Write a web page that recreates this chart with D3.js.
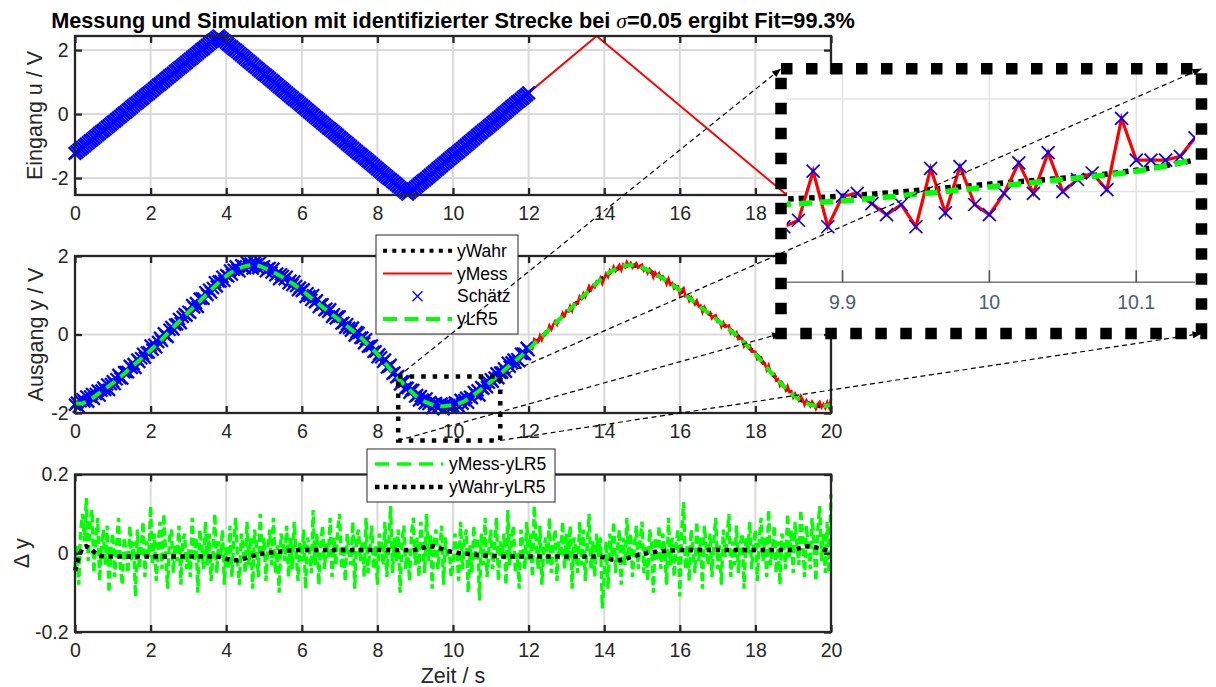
<!DOCTYPE html>
<html lang="de">
<head>
<meta charset="UTF-8" />
<title>Messung und Simulation mit identifizierter Strecke</title>
<script src="https://d3js.org/d3.v7.min.js"></script>
<style>
  body { margin: 0; background: #fff; }
  svg { display: block; font-family: 'Liberation Sans', Arial, sans-serif; }
  .label { font-size: 21.5px; fill: #262626; }
  .legend text { font-size: 17.5px; fill: #000; }
</style>
</head>
<body>
<svg id="chart" width="1216" height="687"></svg>
<script>
// ---------- data ----------
const xTicks = [0, 2, 4, 6, 8, 10, 12, 14, 16, 18, 20];

// input u: corners of the measured triangle (red line)
const uTime = [0, 3.8, 8.8, 13.8, 18.8, 20];
const uMess = [-1.23, 2.44, -2.5, 2.44, -2.5, -1.31];

// sample step of the estimation / output series
const dt = 0.05;

// input samples used for the estimation, t = 0 .. 12 s
const uSchaetz = [
  -1.23, -1.18, -1.13, -1.09, -1.04, -0.99, -0.94, -0.89, -0.84, -0.80,
  -0.75, -0.70, -0.65, -0.60, -0.55, -0.51, -0.46, -0.41, -0.36, -0.31,
  -0.26, -0.22, -0.17, -0.12, -0.07, -0.02, 0.03, 0.07, 0.12, 0.17,
  0.22, 0.27, 0.32, 0.36, 0.41, 0.46, 0.51, 0.56, 0.61, 0.65,
  0.70, 0.75, 0.80, 0.85, 0.90, 0.94, 0.99, 1.04, 1.09, 1.14,
  1.19, 1.23, 1.28, 1.33, 1.38, 1.43, 1.47, 1.52, 1.57, 1.62,
  1.67, 1.72, 1.76, 1.81, 1.86, 1.91, 1.96, 2.01, 2.05, 2.10,
  2.15, 2.20, 2.25, 2.30, 2.34, 2.39, 2.44, 2.39, 2.34, 2.29,
  2.24, 2.19, 2.14, 2.09, 2.04, 2.00, 1.95, 1.90, 1.85, 1.80,
  1.75, 1.70, 1.65, 1.60, 1.55, 1.50, 1.45, 1.40, 1.35, 1.30,
  1.25, 1.21, 1.16, 1.11, 1.06, 1.01, 0.96, 0.91, 0.86, 0.81,
  0.76, 0.71, 0.66, 0.61, 0.56, 0.51, 0.46, 0.42, 0.37, 0.32,
  0.27, 0.22, 0.17, 0.12, 0.07, 0.02, -0.03, -0.08, -0.13, -0.18,
  -0.23, -0.28, -0.33, -0.38, -0.43, -0.47, -0.52, -0.57, -0.62, -0.67,
  -0.72, -0.77, -0.82, -0.87, -0.92, -0.97, -1.02, -1.07, -1.12, -1.17,
  -1.22, -1.26, -1.31, -1.36, -1.41, -1.46, -1.51, -1.56, -1.61, -1.66,
  -1.71, -1.76, -1.81, -1.86, -1.91, -1.96, -2.01, -2.05, -2.10, -2.15,
  -2.20, -2.25, -2.30, -2.35, -2.40, -2.45, -2.50, -2.45, -2.40, -2.35,
  -2.30, -2.25, -2.20, -2.15, -2.10, -2.06, -2.01, -1.96, -1.91, -1.86,
  -1.81, -1.76, -1.71, -1.66, -1.61, -1.56, -1.51, -1.46, -1.41, -1.36,
  -1.31, -1.26, -1.22, -1.17, -1.12, -1.07, -1.02, -0.97, -0.92, -0.87,
  -0.82, -0.77, -0.72, -0.67, -0.62, -0.57, -0.52, -0.48, -0.43, -0.38,
  -0.33, -0.28, -0.23, -0.18, -0.13, -0.08, -0.03, 0.02, 0.07, 0.12,
  0.17, 0.22, 0.27, 0.32, 0.37, 0.41, 0.46, 0.51, 0.56, 0.61,
  0.66
];

// simulated output yLR5, t = 0 .. 20 s
const yLR5 = [
  -1.75, -1.755, -1.76, -1.757, -1.75, -1.737, -1.72, -1.69, -1.66, -1.625,
  -1.59, -1.555, -1.52, -1.485, -1.45, -1.415, -1.38, -1.345, -1.31, -1.275,
  -1.24, -1.20, -1.16, -1.12, -1.08, -1.04, -1.00, -0.955, -0.91, -0.87,
  -0.83, -0.785, -0.74, -0.70, -0.66, -0.615, -0.57, -0.53, -0.49, -0.445,
  -0.40, -0.355, -0.31, -0.26, -0.21, -0.165, -0.12, -0.07, -0.02, 0.03,
  0.08, 0.13, 0.18, 0.23, 0.28, 0.325, 0.37, 0.42, 0.47, 0.52,
  0.57, 0.615, 0.66, 0.71, 0.76, 0.805, 0.85, 0.90, 0.95, 0.995,
  1.04, 1.09, 1.14, 1.185, 1.23, 1.275, 1.32, 1.365, 1.41, 1.45,
  1.49, 1.525, 1.56, 1.59, 1.62, 1.645, 1.67, 1.69, 1.71, 1.725,
  1.74, 1.75, 1.76, 1.767, 1.77, 1.767, 1.76, 1.75, 1.74, 1.72,
  1.70, 1.68, 1.66, 1.635, 1.61, 1.585, 1.56, 1.535, 1.51, 1.485,
  1.46, 1.43, 1.40, 1.365, 1.33, 1.30, 1.27, 1.235, 1.20, 1.165,
  1.13, 1.09, 1.05, 1.01, 0.97, 0.93, 0.89, 0.855, 0.82, 0.78,
  0.74, 0.70, 0.66, 0.625, 0.59, 0.55, 0.51, 0.475, 0.44, 0.40,
  0.36, 0.32, 0.28, 0.245, 0.21, 0.17, 0.13, 0.095, 0.06, 0.02,
  -0.02, -0.065, -0.11, -0.16, -0.21, -0.26, -0.31, -0.355, -0.40, -0.45,
  -0.50, -0.555, -0.61, -0.665, -0.72, -0.78, -0.84, -0.895, -0.95, -1.01,
  -1.07, -1.12, -1.17, -1.22, -1.27, -1.32, -1.37, -1.415, -1.46, -1.505,
  -1.55, -1.585, -1.62, -1.65, -1.68, -1.705, -1.73, -1.75, -1.77, -1.785,
  -1.80, -1.81, -1.82, -1.826, -1.83, -1.826, -1.82, -1.815, -1.81, -1.803,
  -1.795, -1.787, -1.778, -1.762, -1.745, -1.722, -1.70, -1.67, -1.64, -1.605,
  -1.57, -1.535, -1.50, -1.465, -1.43, -1.39, -1.35, -1.315, -1.28, -1.24,
  -1.20, -1.16, -1.12, -1.08, -1.04, -1.00, -0.96, -0.915, -0.87, -0.83,
  -0.79, -0.75, -0.71, -0.67, -0.63, -0.59, -0.55, -0.505, -0.46, -0.42,
  -0.38, -0.335, -0.29, -0.24, -0.19, -0.145, -0.10, -0.055, -0.01, 0.04,
  0.09, 0.135, 0.18, 0.23, 0.28, 0.325, 0.37, 0.42, 0.47, 0.515,
  0.56, 0.605, 0.65, 0.70, 0.75, 0.795, 0.84, 0.89, 0.94, 0.985,
  1.03, 1.08, 1.13, 1.175, 1.22, 1.265, 1.31, 1.355, 1.40, 1.44,
  1.48, 1.52, 1.56, 1.59, 1.62, 1.645, 1.67, 1.69, 1.71, 1.725,
  1.74, 1.75, 1.76, 1.767, 1.77, 1.767, 1.76, 1.75, 1.74, 1.72,
  1.70, 1.68, 1.66, 1.635, 1.61, 1.585, 1.56, 1.535, 1.51, 1.485,
  1.46, 1.43, 1.40, 1.365, 1.33, 1.30, 1.27, 1.235, 1.20, 1.165,
  1.13, 1.09, 1.05, 1.01, 0.97, 0.93, 0.89, 0.855, 0.82, 0.78,
  0.74, 0.70, 0.66, 0.625, 0.59, 0.55, 0.51, 0.475, 0.44, 0.40,
  0.36, 0.32, 0.28, 0.245, 0.21, 0.17, 0.13, 0.095, 0.06, 0.02,
  -0.02, -0.065, -0.11, -0.16, -0.21, -0.26, -0.31, -0.355, -0.40, -0.45,
  -0.50, -0.555, -0.61, -0.665, -0.72, -0.78, -0.84, -0.895, -0.95, -1.01,
  -1.07, -1.12, -1.17, -1.22, -1.27, -1.32, -1.37, -1.415, -1.46, -1.505,
  -1.55, -1.585, -1.62, -1.65, -1.68, -1.705, -1.73, -1.75, -1.77, -1.785,
  -1.80, -1.81, -1.82, -1.83, -1.84, -1.835, -1.83, -1.82, -1.81, -1.805,
  -1.80
];

// yMess - yLR5, same time grid
const yRes = [
  -0.04, 0.02, -0.08, 0.06, 0.10, 0.03, 0.14, -0.02, 0.08, 0.11, -0.05, 0.04, 0.09, -0.07, 0.02, 0.06, -0.03, 0.07, -0.10, 0.01,
  0.05, -0.06, 0.02, 0.09, -0.03, -0.08, 0.04, 0.00, -0.05, 0.07, -0.02, 0.03, -0.11, 0.06, -0.04, 0.01, 0.08, -0.06, 0.03, -0.01,
  0.12, -0.03, 0.05, -0.07, 0.02, 0.08, -0.04, 0.10, -0.01, -0.09, 0.04, 0.06, -0.05, 0.02, -0.02, 0.07, -0.08, 0.03, 0.05, -0.04,
  0.01, -0.06, 0.09, -0.02, 0.04, -0.10, 0.06, 0.02, -0.04, 0.08, -0.03, 0.05, -0.07, 0.00, 0.10, -0.05, 0.03, -0.01, 0.06, -0.08,
  0.02, -0.04, 0.07, -0.06, 0.03, 0.09, -0.02, -0.08, 0.05, 0.01, -0.05, 0.08, -0.03, 0.04, -0.09, 0.06, 0.02, -0.06, 0.10, -0.01,
  0.04, -0.07, 0.01, 0.06, -0.03, 0.09, -0.05, 0.02, -0.10, 0.05, 0.03, -0.02, 0.07, -0.06, 0.04, -0.04, 0.08, 0.00, -0.07, 0.03,
  -0.02, 0.06, -0.09, 0.04, 0.01, -0.05, 0.11, -0.03, 0.05, -0.08, 0.02, 0.07, -0.04, 0.03, -0.01, 0.09, -0.06, 0.04, -0.03, 0.06,
  0.10, -0.04, 0.02, -0.07, 0.05, 0.00, -0.03, 0.08, -0.09, 0.04, 0.06, -0.02, 0.03, -0.06, 0.09, -0.05, 0.01, 0.07, -0.04, 0.02,
  -0.08, 0.05, 0.03, -0.03, 0.08, -0.06, 0.02, 0.12, -0.05, 0.04, -0.02, 0.06, -0.10, 0.03, 0.07, -0.04, 0.01, -0.07, 0.05, 0.09,
  -0.03, 0.04, -0.06, 0.08, 0.02, -0.05, 0.10, -0.02, 0.05, -0.09, 0.03, 0.06, -0.04, 0.01, 0.07, -0.08, 0.04, -0.01, 0.01, -0.06,
  -0.03, 0.05, 0.01, -0.07, 0.08, -0.04, 0.03, 0.06, -0.10, 0.02, -0.05, 0.07, -0.02, 0.04, -0.12, 0.05, -0.03, 0.09, -0.06, 0.01,
  0.06, -0.04, 0.02, 0.09, -0.07, 0.03, -0.01, 0.05, -0.08, 0.11, -0.03, 0.04, 0.07, -0.05, 0.00, -0.09, 0.06, 0.02, -0.04, 0.08,
  -0.02, 0.05, -0.06, 0.12, 0.03, -0.04, 0.07, -0.08, 0.01, 0.04, -0.03, 0.09, -0.05, 0.02, 0.06, -0.07, 0.03, -0.01, 0.08, -0.04,
  0.05, -0.02, 0.07, -0.09, 0.04, 0.01, -0.05, 0.08, -0.03, 0.06, -0.07, 0.02, 0.10, -0.04, 0.03, -0.06, 0.05, -0.01, 0.04, -0.14,
  -0.06, 0.03, -0.09, 0.05, -0.02, 0.08, -0.05, 0.01, 0.06, -0.08, 0.04, -0.03, 0.09, -0.01, 0.05, -0.06, 0.02, 0.07, -0.04, 0.03,
  0.08, -0.05, 0.02, -0.07, 0.06, 0.03, -0.10, 0.04, -0.02, 0.07, -0.04, 0.05, 0.01, -0.08, 0.09, -0.03, 0.04, -0.06, 0.02, 0.06,
  -0.11, 0.05, 0.13, -0.04, 0.02, -0.07, 0.06, 0.00, -0.05, 0.08, -0.02, 0.04, -0.09, 0.07, 0.01, -0.03, 0.05, -0.06, 0.03, 0.09,
  -0.04, 0.02, -0.08, 0.06, -0.01, 0.04, 0.10, -0.06, 0.03, -0.03, 0.07, -0.05, 0.02, 0.05, -0.09, 0.04, 0.00, 0.08, -0.04, 0.02,
  0.06, -0.07, 0.03, 0.09, -0.02, 0.04, -0.06, 0.11, -0.03, 0.01, 0.07, -0.05, 0.03, -0.08, 0.05, 0.02, -0.04, 0.10, -0.01, 0.06,
  -0.05, 0.08, 0.02, -0.03, 0.11, 0.04, -0.06, 0.07, 0.01, -0.04, 0.09, 0.03, -0.07, 0.06, 0.12, -0.02, 0.05, -0.05, 0.08, -0.05,
  0.15
];

// yWahr - yLR5, t = 0 .. 20 s, step 0.1 s
const dtW = 0.1;
const yWahrDiff = [
  -0.045, -0.010, 0.015, 0.018, 0.012, 0.004, -0.004, -0.007, -0.008, -0.008,
  -0.008, -0.008, -0.008, -0.008, -0.008, -0.008, -0.008, -0.008, -0.008, -0.008,
  -0.008, -0.008, -0.008, -0.008, -0.008, -0.008, -0.008, -0.008, -0.008, -0.008,
  -0.008, -0.008, -0.008, -0.008, -0.008, -0.008, -0.008, -0.008, -0.009, -0.011,
  -0.014, -0.016, -0.018, -0.018, -0.016, -0.013, -0.010, -0.007, -0.004, -0.002,
  0.000, 0.001, 0.002, 0.003, 0.004, 0.005, 0.006, 0.007, 0.007, 0.008,
  0.008, 0.008, 0.008, 0.008, 0.008, 0.008, 0.008, 0.008, 0.008, 0.008,
  0.008, 0.008, 0.008, 0.008, 0.008, 0.008, 0.008, 0.008, 0.008, 0.008,
  0.008, 0.008, 0.008, 0.008, 0.008, 0.008, 0.008, 0.008, 0.008, 0.008,
  0.009, 0.011, 0.014, 0.017, 0.018, 0.017, 0.014, 0.011, 0.008, 0.005,
  0.003, 0.001, 0.000, -0.001, -0.002, -0.003, -0.004, -0.005, -0.006, -0.006,
  -0.007, -0.007, -0.008, -0.008, -0.008, -0.008, -0.008, -0.008, -0.008, -0.008,
  -0.008, -0.008, -0.008, -0.008, -0.008, -0.008, -0.008, -0.008, -0.008, -0.008,
  -0.008, -0.008, -0.008, -0.008, -0.008, -0.008, -0.008, -0.008, -0.008, -0.009,
  -0.010, -0.013, -0.016, -0.018, -0.018, -0.016, -0.013, -0.010, -0.007, -0.004,
  -0.002, 0.000, 0.002, 0.003, 0.004, 0.005, 0.006, 0.007, 0.007, 0.008,
  0.008, 0.008, 0.008, 0.008, 0.008, 0.008, 0.008, 0.008, 0.008, 0.008,
  0.008, 0.008, 0.008, 0.008, 0.008, 0.008, 0.008, 0.008, 0.008, 0.008,
  0.008, 0.008, 0.008, 0.008, 0.008, 0.008, 0.008, 0.008, 0.008, 0.008,
  0.009, 0.011, 0.014, 0.017, 0.018, 0.017, 0.015, 0.013, 0.010, 0.007,
  0.005
];

// fine samples shown in the zoom window (step 0.01 s)
const tFine = [
  9.85, 9.86, 9.87, 9.88, 9.89, 9.90, 9.91, 9.92, 9.93, 9.94, 9.95, 9.96, 9.97, 9.98, 9.99, 10.00,
  10.01, 10.02, 10.03, 10.04, 10.05, 10.06, 10.07, 10.08, 10.09, 10.10, 10.11, 10.12, 10.13, 10.14, 10.15
];
const yMessFine = [
  -1.800, -1.838, -1.831, -1.778, -1.838, -1.805, -1.802, -1.813, -1.825, -1.814, -1.838, -1.775, -1.823, -1.773, -1.814, -1.825,
  -1.802, -1.769, -1.802, -1.758, -1.800, -1.787, -1.780, -1.798, -1.721, -1.766, -1.766, -1.766, -1.762, -1.742, -1.720
];
const zoomTicks = [9.9, 10, 10.1];
const zoomYTicks = [-1.8, -1.7];

// region marked in the output plot (data units)
const zoomBox = { t0: 8.55, t1: 11.25, yHi: -1.07, yLo: -2.7 };

// ---------- setup ----------
const axisColor = '#262626', gridColor = '#dadada';
const cRed = '#ff0000', cBlue = '#0000ff', cGreen = '#00ff00';
const svg = d3.select('#chart');

const x = d3.scaleLinear().domain([0, 20]).range([75, 831]);
const P = {
  top: { top: 36, bottom: 195, y: d3.scaleLinear().domain([-2.53, 2.44]).range([195, 36]), yTicks: [-2, 0, 2] },
  mid: { top: 256, bottom: 413, y: d3.scaleLinear().domain([-2, 2]).range([413, 256]), yTicks: [-2, 0, 2] },
  bot: { top: 474.5, bottom: 632, y: d3.scaleLinear().domain([-0.2, 0.2]).range([632, 474.5]), yTicks: [-0.2, 0, 0.2] }
};

const xMark = h => `M${-h},${-h}L${h},${h}M${-h},${h}L${h},${-h}`;

function axesBase(p) {
  const g = svg.append('g');
  g.append('g').selectAll('line').data(xTicks).join('line')
    .attr('x1', d => x(d)).attr('x2', d => x(d))
    .attr('y1', p.top).attr('y2', p.bottom)
    .attr('stroke', gridColor).attr('stroke-width', 2);
  g.append('g').selectAll('line').data(p.yTicks).join('line')
    .attr('x1', x.range()[0]).attr('x2', x.range()[1])
    .attr('y1', d => p.y(d)).attr('y2', d => p.y(d))
    .attr('stroke', gridColor).attr('stroke-width', 2);
  return g;
}

function axesFrame(p) {
  const g = svg.append('g');
  const [x0, x1] = x.range();
  g.append('g').attr('transform', `translate(0,${p.bottom})`)
    .call(d3.axisBottom(x).tickValues(xTicks).tickFormat(d => String(d))
      .tickSize(-7).tickSizeOuter(0).tickPadding(11.2));
  g.append('g').attr('transform', `translate(0,${p.top})`)
    .call(d3.axisTop(x).tickValues(xTicks).tickFormat('').tickSize(-7).tickSizeOuter(0));
  g.append('g').attr('transform', `translate(${x0},0)`)
    .call(d3.axisLeft(p.y).tickValues(p.yTicks).tickFormat(d => String(d))
      .tickSize(-7).tickSizeOuter(0).tickPadding(6.5));
  g.append('g').attr('transform', `translate(${x1},0)`)
    .call(d3.axisRight(p.y).tickValues(p.yTicks).tickFormat('').tickSize(-7).tickSizeOuter(0));
  g.selectAll('.domain').remove();
  g.selectAll('g').attr('font-family', null).attr('font-size', null);
  g.selectAll('.tick line').attr('stroke', axisColor).attr('stroke-width', 2.3);
  g.selectAll('.tick text').attr('fill', axisColor).style('font-size', '19.5px');
  g.append('rect')
    .attr('x', x0).attr('y', p.top).attr('width', x1 - x0).attr('height', p.bottom - p.top)
    .attr('fill', 'none').attr('stroke', axisColor).attr('stroke-width', 2.3);
}

// ---------- top: input ----------
const gTop = axesBase(P.top);
gTop.append('path')
  .datum(d3.zip(uTime, uMess))
  .attr('d', d3.line().x(d => x(d[0])).y(d => P.top.y(d[1])))
  .attr('fill', 'none').attr('stroke', cRed).attr('stroke-width', 2);
gTop.append('g').selectAll('path').data(uSchaetz).join('path')
  .attr('transform', (d, i) => `translate(${x(i * dt)},${P.top.y(d)})`)
  .attr('d', xMark(6.3))
  .attr('fill', 'none').attr('stroke', cBlue).attr('stroke-width', 2.4);
axesFrame(P.top);

// ---------- middle: output ----------
const yMess = yLR5.map((v, i) => v + yRes[i]);
const yWahr = yWahrDiff.map((d, i) => yLR5[2 * i] + d);
const gMid = axesBase(P.mid);
const lineMid = step => d3.line().x((d, i) => x(i * step)).y(d => P.mid.y(d));
gMid.append('path').datum(yWahr).attr('d', lineMid(dtW))
  .attr('fill', 'none').attr('stroke', '#000').attr('stroke-width', 4).attr('stroke-dasharray', '4,5');
gMid.append('path').datum(yMess).attr('d', lineMid(dt))
  .attr('fill', 'none').attr('stroke', cRed).attr('stroke-width', 2.6);
gMid.append('g').selectAll('path').data(yMess.filter((d, i) => i * dt <= 12 + 1e-9)).join('path')
  .attr('transform', (d, i) => `translate(${x(i * dt)},${P.mid.y(d)})`)
  .attr('d', xMark(6))
  .attr('fill', 'none').attr('stroke', cBlue).attr('stroke-width', 2.3);
gMid.append('path').datum(yLR5).attr('d', lineMid(dt))
  .attr('fill', 'none').attr('stroke', cGreen).attr('stroke-width', 4).attr('stroke-dasharray', '11,7');
axesFrame(P.mid);

// ---------- bottom: residuals ----------
const gBot = axesBase(P.bot);
gBot.append('path').datum(yRes)
  .attr('d', d3.line().x((d, i) => x(i * dt)).y(d => P.bot.y(d)))
  .attr('fill', 'none').attr('stroke', cGreen).attr('stroke-width', 3.4).attr('stroke-dasharray', '8,4');
gBot.append('path').datum(yWahrDiff)
  .attr('d', d3.line().x((d, i) => x(i * dtW)).y(d => P.bot.y(d)))
  .attr('fill', 'none').attr('stroke', '#000').attr('stroke-width', 4.5).attr('stroke-dasharray', '4.5,4.5');
axesFrame(P.bot);

// ---------- labels ----------
svg.append('text').attr('x', 453).attr('y', 28).attr('text-anchor', 'middle')
  .style('font-size', '21.7px').style('font-weight', 'bold').attr('fill', '#000')
  .call(t => {
    t.append('tspan').text('Messung und Simulation mit identifizierter Strecke bei ');
    t.append('tspan').style('font-family', "'Liberation Serif', serif").style('font-style', 'italic')
      .style('font-weight', 'normal').text('σ');
    t.append('tspan').text('=0.05 ergibt Fit=99.3%');
  });
const yLabels = [
  { text: 'Eingang u / V', x: 42, p: P.top },
  { text: 'Ausgang y / V', x: 43, p: P.mid },
  { text: 'Δ y', x: 28.5, p: P.bot }
];
svg.selectAll('text.ylab').data(yLabels).join('text')
  .attr('class', 'label ylab').attr('text-anchor', 'middle')
  .attr('transform', d => `translate(${d.x},${(d.p.top + d.p.bottom) / 2}) rotate(-90)`)
  .text(d => d.text);
svg.append('text').attr('class', 'label').attr('x', 453).attr('y', 683)
  .attr('text-anchor', 'middle').text('Zeit / s');

// ---------- legends ----------
function sample(g, type, x0, x1, y) {
  if (type === 'marker') {
    g.append('path').attr('transform', `translate(${(x0 + x1) / 2},${y})`).attr('d', xMark(5))
      .attr('fill', 'none').attr('stroke', cBlue).attr('stroke-width', 1.3);
    return;
  }
  const st = {
    dotted: ['#000', 4, '4,5.3'], solid: [cRed, 2, null],
    dashed: [cGreen, 4, '14,7.5'], dashedThin: [cGreen, 3.3, '14,8'], dottedBig: ['#000', 4.5, '4.5,4.5']
  }[type];
  g.append('line').attr('x1', x0).attr('x2', x1).attr('y1', y).attr('y2', y)
    .attr('stroke', st[0]).attr('stroke-width', st[1]).attr('stroke-dasharray', st[2]);
}
function legend(box, items) {
  const g = svg.append('g').attr('class', 'legend');
  g.append('rect').attr('x', box.x).attr('y', box.y).attr('width', box.w).attr('height', box.h)
    .attr('fill', '#fff').attr('stroke', axisColor).attr('stroke-width', 1);
  items.forEach((it, i) => {
    const y = box.y0 + i * box.dy;
    sample(g, it.type, box.l0, box.l1, y);
    g.append('text').attr('x', box.tx).attr('y', y + 6).text(it.label);
  });
}
legend({ x: 376, y: 235, w: 142, h: 99, y0: 250.7, dy: 22.8, l0: 383, l1: 452, tx: 457 }, [
  { label: 'yWahr', type: 'dotted' },
  { label: 'yMess', type: 'solid' },
  { label: 'Schätz', type: 'marker' },
  { label: 'yLR5', type: 'dashed' }
]);
legend({ x: 367, y: 449, w: 188, h: 53, y0: 464, dy: 23, l0: 375, l1: 443, tx: 449 }, [
  { label: 'yMess-yLR5', type: 'dashedThin' },
  { label: 'yWahr-yLR5', type: 'dottedBig' }
]);

// ---------- zoom marker in the output plot ----------
const zb = {
  x0: x(zoomBox.t0), x1: x(zoomBox.t1),
  y0: P.mid.y(zoomBox.yHi), y1: P.mid.y(zoomBox.yLo)
};
svg.append('rect').attr('x', zb.x0).attr('y', zb.y0)
  .attr('width', zb.x1 - zb.x0).attr('height', zb.y1 - zb.y0)
  .attr('fill', 'none').attr('stroke', '#000').attr('stroke-width', 4.5).attr('stroke-dasharray', '4.5,7');

// ---------- zoom window ----------
const inset = { left: 786.7, right: 1195, top: 73, bottom: 282.3 };
const frameBox = { x0: 781, x1: 1201.5, y0: 68.7, y1: 333.5 };
const xIn = d3.scaleLinear().domain([9.862, 10.14]).range([inset.left, inset.right]);
const yIn = d3.scaleLinear().domain([-1.898, -1.672]).range([inset.bottom, inset.top]);

svg.append('rect').attr('x', 787).attr('y', 74).attr('width', 409).attr('height', 254).attr('fill', '#fff');
svg.append('clipPath').attr('id', 'clipIn').append('rect')
  .attr('x', inset.left).attr('y', inset.top)
  .attr('width', inset.right - inset.left).attr('height', inset.bottom - inset.top);

const gIn = svg.append('g');
gIn.selectAll('line.vg').data(zoomTicks).join('line')
  .attr('x1', d => xIn(d)).attr('x2', d => xIn(d)).attr('y1', inset.top).attr('y2', inset.bottom)
  .attr('stroke', '#e2e2e2').attr('stroke-width', 1.5);
gIn.selectAll('line.hg').data(zoomYTicks).join('line')
  .attr('x1', inset.left).attr('x2', inset.right).attr('y1', d => yIn(d)).attr('y2', d => yIn(d))
  .attr('stroke', '#e2e2e2').attr('stroke-width', 1.5);

const gInData = gIn.append('g').attr('clip-path', 'url(#clipIn)');
const inWindow = p => p[0] >= 9.5 && p[0] <= 10.6;
const smoothIn = d3.line().curve(d3.curveCatmullRom).x(d => xIn(d[0])).y(d => yIn(d[1]));
gInData.append('path')
  .datum(yWahr.map((v, i) => [i * dtW, v]).filter(inWindow))
  .attr('d', smoothIn).attr('fill', 'none').attr('stroke', '#000')
  .attr('stroke-width', 5.5).attr('stroke-dasharray', '5.5,5');
gInData.append('path')
  .datum(d3.zip(tFine, yMessFine))
  .attr('d', d3.line().x(d => xIn(d[0])).y(d => yIn(d[1])))
  .attr('fill', 'none').attr('stroke', cRed).attr('stroke-width', 3.2);
gInData.append('g').selectAll('path').data(d3.zip(tFine, yMessFine)).join('path')
  .attr('transform', d => `translate(${xIn(d[0])},${yIn(d[1])})`)
  .attr('d', xMark(6.5)).attr('fill', 'none').attr('stroke', cBlue).attr('stroke-width', 1.7);
gInData.append('path')
  .datum(yLR5.map((v, i) => [i * dt, v]).filter(inWindow))
  .attr('d', smoothIn).attr('fill', 'none').attr('stroke', cGreen)
  .attr('stroke-width', 5.5).attr('stroke-dasharray', '13,8');

// inset x axis
gIn.append('line').attr('x1', inset.left).attr('x2', inset.right)
  .attr('y1', inset.bottom).attr('y2', inset.bottom)
  .attr('stroke', '#7a7a7a').attr('stroke-width', 1.6);
gIn.selectAll('line.tk').data(zoomTicks).join('line')
  .attr('x1', d => xIn(d)).attr('x2', d => xIn(d))
  .attr('y1', inset.bottom).attr('y2', inset.bottom - 12)
  .attr('stroke', '#555').attr('stroke-width', 1.6);
gIn.selectAll('text').data(zoomTicks).join('text')
  .attr('x', d => xIn(d)).attr('y', 309).attr('text-anchor', 'middle')
  .style('font-size', '19.5px').attr('fill', '#4a5d73').text(d => String(d));

// dotted frame around the zoom window
svg.append('rect')
  .attr('x', frameBox.x0).attr('y', frameBox.y0)
  .attr('width', frameBox.x1 - frameBox.x0).attr('height', frameBox.y1 - frameBox.y0)
  .attr('fill', 'none').attr('stroke', '#000').attr('stroke-width', 11.5)
  .attr('stroke-dasharray', '11.5,13.5');

// connecting arrows
svg.append('defs').append('marker')
  .attr('id', 'arrow').attr('viewBox', '0 0 10 10').attr('refX', 10).attr('refY', 5)
  .attr('markerWidth', 9).attr('markerHeight', 9).attr('markerUnits', 'userSpaceOnUse')
  .attr('orient', 'auto')
  .append('path').attr('d', 'M0,1L10,5L0,9Z').attr('fill', '#000');
const links = [
  [zb.x0, zb.y0, frameBox.x0, frameBox.y0],
  [zb.x1, zb.y0, frameBox.x1, frameBox.y0],
  [zb.x0, zb.y1, frameBox.x0, frameBox.y1],
  [zb.x1, zb.y1, frameBox.x1, frameBox.y1]
];
svg.append('g').selectAll('line').data(links).join('line')
  .attr('x1', d => d[0]).attr('y1', d => d[1]).attr('x2', d => d[2]).attr('y2', d => d[3])
  .attr('stroke', '#000').attr('stroke-width', 1.2).attr('stroke-dasharray', '5,3.5')
  .attr('marker-end', 'url(#arrow)');
</script>
</body>
</html>
